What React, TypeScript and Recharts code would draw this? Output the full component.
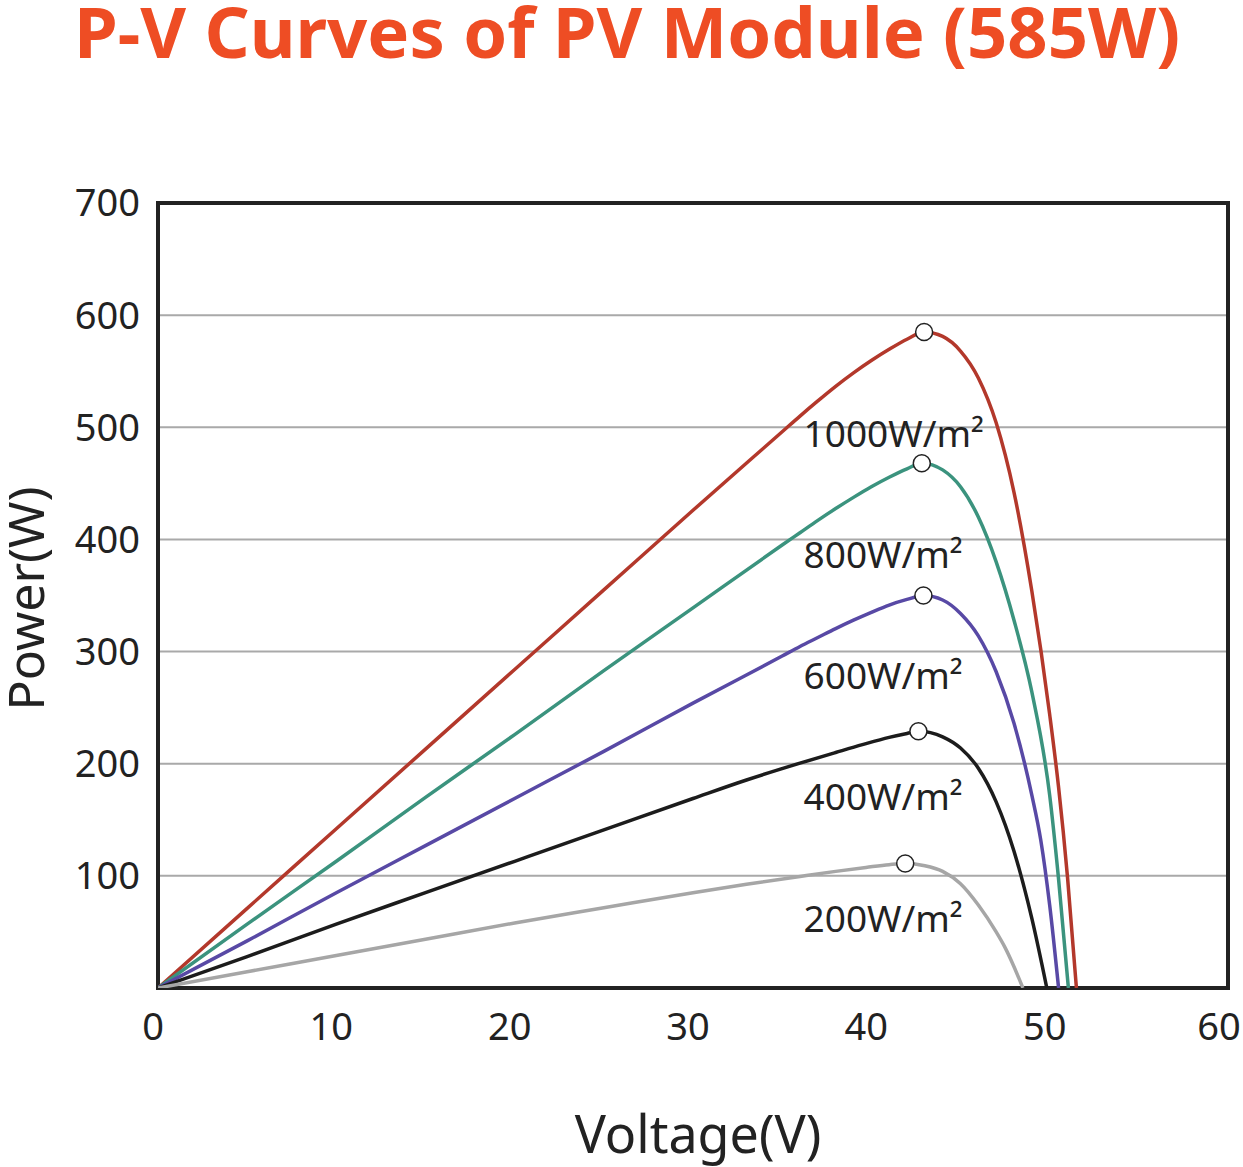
import {
  LineChart,
  Line,
  XAxis,
  YAxis,
  CartesianGrid,
  ReferenceDot,
  ReferenceArea,
} from "recharts";

// voltage (V), power (W) pairs
const curve1000 = [
  [0, 0], [5, 71], [10, 142], [15, 213], [20, 284], [25, 355], [30, 426], [35, 496],
  [36, 510], [37, 523.5], [38, 536.5], [39, 548.5], [40, 559.5], [41, 569.5], [42, 578.5],
  [42.96, 585], [44, 581], [45, 568], [46, 544], [47, 504], [48, 442], [49, 354], [50, 244],
  [50.5, 179], [51, 99], [51.5, 0],
];
const curve800 = [
  [0, 0], [5, 57], [10, 113], [15, 170], [20, 226], [25, 283], [30, 339], [35, 395],
  [36, 406], [37, 417], [38, 427.5], [39, 437.5], [40, 447], [41, 455.5], [42, 463],
  [42.83, 468], [44, 462], [45, 447], [46, 420], [47, 380], [48, 328], [49, 264], [50, 172],
  [50.5, 97], [51.05, 0],
];
const curve600 = [
  [0, 0], [5, 42], [10, 85], [15, 127], [20, 169], [25, 211], [30, 254], [35, 296],
  [36, 304.5], [37, 312.5], [38, 320.5], [39, 328], [40, 335], [41, 341.5], [42, 346.5],
  [42.92, 350], [44, 346], [45, 334], [46, 314], [47, 282], [48, 236], [49, 172], [49.5, 132],
  [50, 74], [50.5, 0],
];
const curve400 = [
  [0, 0], [5, 28], [10, 57], [15, 85], [20, 113], [25, 141], [30, 169], [33, 185.5],
  [36, 200.5], [38, 210], [39.5, 217], [41, 223.5], [42, 227], [42.64, 229], [44, 224],
  [45, 214], [46, 196], [47, 166], [48, 122], [49, 62], [49.84, 0],
];
const curve200 = [
  [0, 0], [5, 14.5], [10, 29], [15, 43.5], [20, 58], [25, 71.5], [30, 85], [33, 92.5],
  [36, 99.5], [38, 104], [39.7, 107.5], [41, 110], [41.9, 111], [43, 109], [44, 104],
  [45, 93], [46, 74], [47, 50], [47.5, 36], [48, 19], [48.5, 0],
];

const irradiance = ["1000W/m²", "800W/m²", "600W/m²", "400W/m²", "200W/m²"];
const mppVoltage = [42.96, 42.83, 42.92, 42.64, 41.9];
const mppPower = [585, 468, 350, 229, 111];
const labelVoltage = 36.2;
const labelPower = [494, 386, 278, 170, 62];

const voltageTicks = [0, 10, 20, 30, 40, 50, 60];
const powerTicks = [100, 200, 300, 400, 500, 600, 700];

const curves = [curve1000, curve800, curve600, curve400, curve200];
const colors = ["#b3382b", "#3b937e", "#5849a5", "#1c1c1c", "#a6a6a6"];

export default function App() {
  const series = curves.map((c) => c.map(([v, p]) => ({ v, p })));

  return (
    <div
      style={{
        position: "absolute",
        left: 0,
        top: 0,
        width: 1243,
        height: 1167,
        overflow: "hidden",
        background: "#fff",
        fontFamily: "'Noto Sans', sans-serif",
      }}
    >
      <svg width={1243} height={90} style={{ position: "absolute", left: 0, top: 0 }}>
        <text x={74} y={58} fontSize={70.5} fontWeight={700} fill="#ee4d24">
          P-V Curves of PV Module (585W)
        </text>
      </svg>
      <LineChart width={1243} height={1167} margin={{ top: 203, right: 15, bottom: 0, left: 0 }}>
        <CartesianGrid vertical={false} stroke="#a9a9a9" strokeWidth={2} />
        <XAxis
          type="number"
          dataKey="v"
          domain={[0, 60]}
          ticks={voltageTicks}
          allowDataOverflow
          axisLine={false}
          tickLine={false}
          tickSize={0}
          tickMargin={25}
          height={179}
          tick={{ fontSize: 38, fill: "#222", dx: -5 }}
          label={{
            value: "Voltage(V)",
            position: "insideBottom",
            offset: 14,
            fontSize: 52,
            fill: "#222",
            dx: 5,
          }}
        />
        <YAxis
          type="number"
          domain={[0, 700]}
          ticks={powerTicks}
          allowDataOverflow
          axisLine={false}
          tickLine={false}
          tickSize={0}
          tickMargin={18}
          width={158}
          tick={{ fontSize: 38, fill: "#222" }}
          label={{
            content: (props: any) => {
              const vb = props.viewBox;
              const cx = vb.x + 25;
              const cy = vb.y + vb.height / 2 + 3;
              return (
                <text
                  x={cx}
                  y={cy}
                  transform={`rotate(-90 ${cx} ${cy})`}
                  textAnchor="middle"
                  dominantBaseline="central"
                  fontSize={50}
                  fill="#222"
                >
                  Power(W)
                </text>
              );
            },
          }}
        />
        {series.map((d, i) => (
          <Line
            key={irradiance[i]}
            data={d}
            dataKey="p"
            type="monotone"
            stroke={colors[i]}
            strokeWidth={3.5}
            dot={false}
            activeDot={false}
            isAnimationActive={false}
          />
        ))}
        <ReferenceArea
          x1={0}
          x2={60}
          y1={0}
          y2={700}
          fill="none"
          stroke="#222"
          strokeWidth={4}
          fillOpacity={0}
        />
        {irradiance.map((name, i) => (
          <ReferenceDot
            key={"l" + name}
            x={labelVoltage}
            y={labelPower[i]}
            r={0}
            fill="none"
            stroke="none"
            label={{ value: name, position: "right", offset: 0, fontSize: 37, fill: "#222" }}
          />
        ))}
        {irradiance.map((name, i) => (
          <ReferenceDot
            key={"m" + name}
            x={mppVoltage[i]}
            y={mppPower[i]}
            r={8.5}
            fill="#fff"
            stroke="#222"
            strokeWidth={1.5}
          />
        ))}
      </LineChart>
    </div>
  );
}
